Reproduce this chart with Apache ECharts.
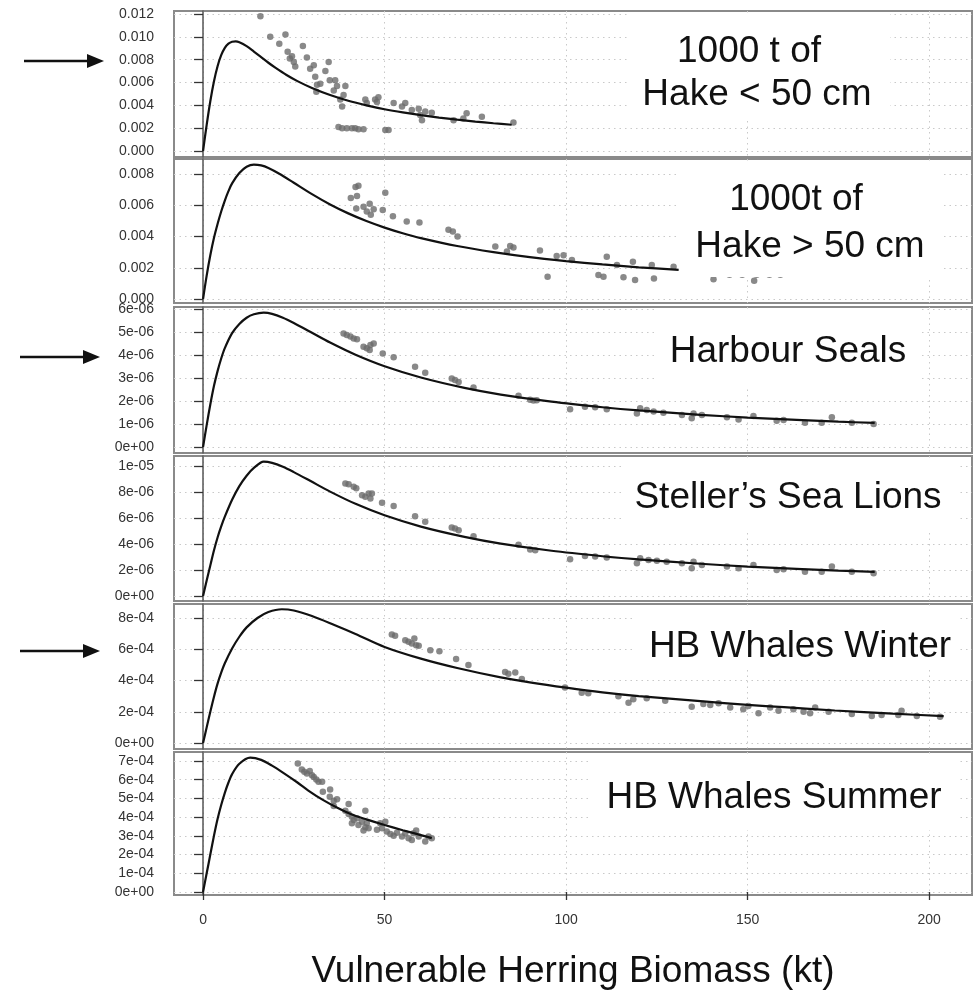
<!DOCTYPE html>
<html>
<head>
<meta charset="utf-8">
<title>Herring consumption per predator</title>
<script src="https://cdn.jsdelivr.net/npm/echarts@6/dist/echarts.min.js"></script>
<style>
  html, body { margin: 0; padding: 0; background: #fff; }
  #chart { width: 980px; height: 998px; }
</style>
</head>
<body>
<div id="chart"></div>
<script>
// ---- values ----
const xTicks = [0, 50, 100, 150, 200];
const xTitle = 'Vulnerable Herring Biomass (kt)';

const panelNames = [
  ['1000 t of', 'Hake < 50 cm'],
  ['1000t of', 'Hake > 50 cm'],
  ['Harbour Seals'],
  ['Steller\u2019s Sea Lions'],
  ['HB Whales Winter'],
  ['HB Whales Summer']
];

// y ticks and their printed labels
const hakeSmallTicks = [0, 0.002, 0.004, 0.006, 0.008, 0.010, 0.012];
const hakeSmallTickLabels = ['0.000', '0.002', '0.004', '0.006', '0.008', '0.010', '0.012'];
const hakeLargeTicks = [0, 0.002, 0.004, 0.006, 0.008];
const hakeLargeTickLabels = ['0.000', '0.002', '0.004', '0.006', '0.008'];
const sealTicks = [0, 1e-6, 2e-6, 3e-6, 4e-6, 5e-6, 6e-6];
const sealTickLabels = ['0e+00', '1e-06', '2e-06', '3e-06', '4e-06', '5e-06', '6e-06'];
const sealionTicks = [0, 2e-6, 4e-6, 6e-6, 8e-6, 1e-5];
const sealionTickLabels = ['0e+00', '2e-06', '4e-06', '6e-06', '8e-06', '1e-05'];
const whaleWinterTicks = [0, 2e-4, 4e-4, 6e-4, 8e-4];
const whaleWinterTickLabels = ['0e+00', '2e-04', '4e-04', '6e-04', '8e-04'];
const whaleSummerTicks = [0, 1e-4, 2e-4, 3e-4, 4e-4, 5e-4, 6e-4, 7e-4];
const whaleSummerTickLabels = ['0e+00', '1e-04', '2e-04', '3e-04', '4e-04', '5e-04', '6e-04', '7e-04'];

// fitted curves [biomass, consumption]
const hakeSmallFit = [[0,0],[1,0.00229],[2,0.00436],[3,0.00609],[4,0.00743],[5,0.00839],[6,0.00903],[7,0.0094],[8,0.00957],[9,0.0096],[10,0.00952],[12,0.00918],[14,0.00871],[16,0.00822],[18,0.00773],[20,0.00728],[23,0.00666],[26,0.00612],[30,0.00552],[35,0.0049],[40,0.0044],[45,0.0040],[50,0.00366],[55,0.00338],[60,0.00314],[65,0.00293],[70,0.00275],[75,0.00258],[80,0.00243],[85,0.0023]];
const hakeLargeFit = [[0,0],[1,0.0015],[2,0.0028],[3,0.0039],[4,0.0048],[5,0.0056],[6,0.0063],[7,0.0069],[8,0.0074],[10,0.00806],[12,0.00846],[14,0.0086],[16,0.00855],[18,0.00839],[21,0.00802],[25,0.00744],[30,0.00671],[35,0.00605],[40,0.00548],[45,0.00499],[50,0.00457],[55,0.00421],[60,0.0039],[70,0.00339],[80,0.0030],[90,0.00268],[100,0.00243],[110,0.00221],[120,0.00203],[131,0.00187]];
const sealFit = [[0,0],[1,0.95e-6],[2,1.85e-6],[3,2.65e-6],[4,3.3e-6],[5,3.85e-6],[6,4.3e-6],[8,4.95e-6],[10,5.35e-6],[12,5.62e-6],[14,5.77e-6],[16.7,5.84e-6],[19,5.79e-6],[22,5.62e-6],[25,5.39e-6],[29.5,5.01e-6],[35,4.54e-6],[42,4.01e-6],[50,3.51e-6],[60,3.02e-6],[72,2.57e-6],[82,2.28e-6],[96,1.97e-6],[110,1.73e-6],[120,1.59e-6],[137,1.40e-6],[150,1.28e-6],[165,1.17e-6],[175,1.10e-6],[185,1.05e-6]];
const sealionFit = [[0,0],[1,1.2e-6],[2,2.35e-6],[3,3.5e-6],[4,4.5e-6],[5,5.35e-6],[6,6.1e-6],[8,7.4e-6],[10,8.45e-6],[12,9.25e-6],[14,9.85e-6],[16.7,10.33e-6],[19,10.24e-6],[22,9.94e-6],[25,9.53e-6],[29.5,8.86e-6],[35,8.03e-6],[42,7.09e-6],[50,6.21e-6],[60,5.34e-6],[72,4.55e-6],[82,4.03e-6],[96,3.48e-6],[110,3.06e-6],[120,2.81e-6],[137,2.48e-6],[150,2.26e-6],[165,2.07e-6],[175,1.95e-6],[185,1.86e-6]];
const whaleWinterFit = [[0,0],[1,1.0e-4],[2,2.0e-4],[3,2.95e-4],[4,3.8e-4],[5,4.5e-4],[6,5.1e-4],[8,6.05e-4],[10,6.8e-4],[12,7.4e-4],[15,8.0e-4],[18,8.38e-4],[21.7,8.56e-4],[25,8.48e-4],[30,8.13e-4],[36,7.57e-4],[42,6.98e-4],[50,6.15e-4],[60,5.4e-4],[70,4.8e-4],[82,4.2e-4],[90,3.88e-4],[100,3.54e-4],[110,3.24e-4],[120,3.0e-4],[137,2.68e-4],[150,2.44e-4],[160,2.29e-4],[174,2.08e-4],[190,1.88e-4],[204,1.72e-4]];
const whaleSummerFit = [[0,0],[1,1.0e-4],[2,2.0e-4],[3,3.0e-4],[4,3.9e-4],[5,4.65e-4],[6,5.3e-4],[7,5.85e-4],[8,6.3e-4],[10,6.85e-4],[13,7.18e-4],[16,7.06e-4],[19,6.75e-4],[22,6.38e-4],[26,5.85e-4],[29,5.42e-4],[33,4.92e-4],[37,4.5e-4],[41,4.14e-4],[45,3.88e-4],[50,3.58e-4],[55,3.3e-4],[60,3.04e-4],[63,2.88e-4]];

// observed points [biomass, consumption]
const hakeSmallPts = [[15.8,0.0118],[18.5,0.0100],[21.0,0.0094],[22.7,0.0102],[23.3,0.0087],[23.9,0.0081],[24.5,0.0083],[25.0,0.0078],[25.4,0.0074],[27.5,0.0092],[28.6,0.0082],[29.5,0.0072],[30.5,0.0075],[30.9,0.0065],[31.4,0.0058],[31.2,0.0052],[32.3,0.0059],[33.7,0.0070],[34.6,0.0078],[34.9,0.0062],[36.0,0.0053],[36.4,0.0062],[36.9,0.0057],[37.8,0.0045],[38.3,0.0039],[39.2,0.0057],[38.7,0.0049],[37.3,0.0021],[38.3,0.0020],[39.6,0.0020],[41.0,0.0020],[41.9,0.0020],[42.8,0.0019],[44.2,0.0019],[44.7,0.0045],[45.1,0.0042],[47.4,0.0045],[48.3,0.0047],[47.9,0.0043],[50.2,0.00185],[51.1,0.00185],[52.5,0.0042],[54.8,0.0039],[55.7,0.0042],[57.5,0.0036],[59.4,0.0037],[59.8,0.00315],[60.3,0.0027],[61.2,0.00345],[63.0,0.00335],[69.0,0.0027],[71.7,0.00285],[72.6,0.0033],[76.8,0.0030],[85.5,0.0025]];
const hakeLargePts = [[40.7,0.00646],[42.0,0.00717],[42.8,0.00725],[42.4,0.0066],[42.2,0.0058],[44.2,0.0059],[45.1,0.0056],[45.9,0.0061],[46.2,0.0054],[47.0,0.00575],[49.5,0.0057],[50.2,0.0068],[52.3,0.0053],[56.1,0.00496],[59.6,0.0049],[67.6,0.00443],[68.8,0.00432],[70.1,0.0040],[80.5,0.00336],[83.7,0.00304],[84.6,0.0034],[85.5,0.0033],[92.8,0.0031],[94.9,0.00143],[97.4,0.00275],[99.3,0.0028],[101.6,0.0025],[108.9,0.00154],[110.3,0.00143],[111.2,0.0027],[114.0,0.00218],[115.8,0.00139],[118.4,0.00239],[119.0,0.00122],[123.6,0.00218],[124.2,0.00132],[129.6,0.00207],[140.6,0.00126],[145.0,0.00155],[148.5,0.00155],[151.8,0.00117],[152.5,0.00155],[156.0,0.00155],[159.0,0.00155]];
const sealPts = [[38.7,4.94e-6],[39.6,4.87e-6],[40.6,4.8e-6],[41.5,4.72e-6],[42.4,4.68e-6],[44.2,4.36e-6],[45.1,4.29e-6],[46.1,4.43e-6],[47.0,4.5e-6],[45.9,4.22e-6],[49.5,4.07e-6],[52.5,3.9e-6],[58.4,3.49e-6],[61.2,3.23e-6],[68.5,2.98e-6],[69.4,2.91e-6],[70.4,2.83e-6],[74.5,2.59e-6],[86.9,2.23e-6],[90.1,2.06e-6],[91.0,2.02e-6],[91.9,2.03e-6],[101.1,1.64e-6],[105.2,1.75e-6],[108.0,1.73e-6],[111.2,1.64e-6],[119.5,1.46e-6],[120.4,1.68e-6],[122.2,1.61e-6],[124.1,1.54e-6],[126.8,1.49e-6],[131.9,1.39e-6],[134.6,1.25e-6],[135.1,1.46e-6],[137.4,1.39e-6],[144.3,1.29e-6],[147.5,1.2e-6],[151.6,1.35e-6],[158.0,1.14e-6],[159.9,1.17e-6],[165.8,1.06e-6],[170.4,1.06e-6],[173.2,1.29e-6],[178.7,1.06e-6],[184.7,1.0e-6]];
const sealionPts = [[39.2,8.66e-6],[40.1,8.59e-6],[41.5,8.41e-6],[42.2,8.28e-6],[43.8,7.76e-6],[44.7,7.63e-6],[45.6,7.89e-6],[46.5,7.89e-6],[46.1,7.51e-6],[49.3,7.17e-6],[52.5,6.92e-6],[58.4,6.14e-6],[61.2,5.71e-6],[68.5,5.27e-6],[69.4,5.19e-6],[70.4,5.06e-6],[74.5,4.6e-6],[86.9,3.94e-6],[90.1,3.58e-6],[91.5,3.52e-6],[101.1,2.82e-6],[105.2,3.08e-6],[108.0,3.03e-6],[111.2,2.97e-6],[119.5,2.51e-6],[120.4,2.9e-6],[122.7,2.77e-6],[125.0,2.72e-6],[127.7,2.64e-6],[131.9,2.51e-6],[134.6,2.13e-6],[135.1,2.64e-6],[137.4,2.38e-6],[144.3,2.26e-6],[147.5,2.13e-6],[151.6,2.38e-6],[158.0,2.0e-6],[159.9,2.05e-6],[165.8,1.87e-6],[170.4,1.87e-6],[173.2,2.26e-6],[178.7,1.87e-6],[184.7,1.75e-6]];
const whaleWinterPts = [[52.0,6.94e-4],[52.9,6.86e-4],[55.7,6.58e-4],[56.6,6.48e-4],[57.5,6.37e-4],[58.2,6.69e-4],[58.7,6.26e-4],[59.4,6.22e-4],[62.6,5.94e-4],[65.1,5.88e-4],[69.7,5.37e-4],[73.1,4.99e-4],[83.2,4.54e-4],[84.1,4.44e-4],[86.0,4.52e-4],[87.8,4.1e-4],[99.7,3.56e-4],[104.3,3.22e-4],[106.1,3.18e-4],[114.4,3.0e-4],[117.2,2.58e-4],[118.5,2.8e-4],[122.2,2.86e-4],[127.3,2.71e-4],[134.6,2.32e-4],[137.8,2.5e-4],[139.7,2.43e-4],[142.0,2.54e-4],[145.2,2.28e-4],[148.8,2.16e-4],[150.2,2.37e-4],[153.0,1.9e-4],[156.2,2.28e-4],[158.5,2.07e-4],[162.6,2.16e-4],[165.4,2.0e-4],[167.2,1.9e-4],[168.6,2.28e-4],[172.3,2.0e-4],[178.7,1.86e-4],[184.2,1.73e-4],[186.9,1.79e-4],[191.5,1.79e-4],[192.4,2.07e-4],[196.6,1.73e-4],[203.0,1.68e-4]];
const whaleSummerPts = [[26.1,6.86e-4],[27.2,6.54e-4],[27.9,6.42e-4],[28.6,6.33e-4],[29.4,6.47e-4],[30.0,6.24e-4],[30.5,6.15e-4],[31.2,6.01e-4],[31.8,5.89e-4],[32.8,5.89e-4],[33.0,5.35e-4],[35.0,5.48e-4],[34.9,5.09e-4],[36.0,4.88e-4],[36.9,4.95e-4],[36.0,4.59e-4],[40.1,4.7e-4],[39.2,4.34e-4],[40.1,4.17e-4],[41.0,4.02e-4],[41.5,3.85e-4],[42.4,3.94e-4],[41.0,3.67e-4],[42.8,3.58e-4],[43.8,3.76e-4],[44.7,4.34e-4],[44.7,3.46e-4],[45.1,3.67e-4],[45.6,3.4e-4],[44.2,3.28e-4],[47.9,3.32e-4],[48.8,3.67e-4],[49.3,3.4e-4],[50.2,3.76e-4],[50.6,3.23e-4],[51.6,3.1e-4],[52.5,3.0e-4],[53.4,3.17e-4],[54.8,2.96e-4],[55.7,3.14e-4],[56.6,2.87e-4],[57.5,2.78e-4],[58.0,3.14e-4],[58.7,3.28e-4],[59.4,2.96e-4],[61.2,2.7e-4],[62.1,2.96e-4],[63.0,2.87e-4]];

// ---- layout ----
const FONT = '"Liberation Sans", Arial, Helvetica, sans-serif';
const GRID_LEFT = 174, GRID_WIDTH = 798;
const X_MIN = -8, X_MAX = 211.8;

const panels = [
  { pts: hakeSmallPts, fit: hakeSmallFit, ticks: hakeSmallTicks, labels: hakeSmallTickLabels,
    top: 11, height: 146, min: -0.000526, max: 0.012263, cover: [627, 13, 263, 105], text: [[749, 52], [757, 95]] },
  { pts: hakeLargePts, fit: hakeLargeFit, ticks: hakeLargeTicks, labels: hakeLargeTickLabels,
    top: 159, height: 144, min: -0.000256, max: 0.00896, cover: [680, 161, 263, 116], text: [[796, 200], [810, 247]] },
  { pts: sealPts, fit: sealFit, ticks: sealTicks, labels: sealTickLabels,
    top: 307, height: 146, min: -0.26e-6, max: 6.087e-6, cover: [657, 309, 265, 80], text: [[788, 352]] },
  { pts: sealionPts, fit: sealionFit, ticks: sealionTicks, labels: sealionTickLabels,
    top: 456, height: 145, min: -0.385e-6, max: 10.77e-6, cover: [623, 458, 334, 72], text: [[788, 498]] },
  { pts: whaleWinterPts, fit: whaleWinterFit, ticks: whaleWinterTicks, labels: whaleWinterTickLabels,
    top: 604, height: 145, min: -0.384e-4, max: 8.896e-4, cover: [633, 606, 327, 62], text: [[800, 647]] },
  { pts: whaleSummerPts, fit: whaleSummerFit, ticks: whaleSummerTicks, labels: whaleSummerTickLabels,
    top: 752, height: 143, min: -0.16e-4, max: 7.48e-4, cover: [590, 754, 368, 76], text: [[774, 798]] }
];

// arrows on the left, pointing at panels 1, 3 and 5
const arrowRows = [[24, 61], [20, 357], [20, 651]];

function tickLabel(ticks, labels) {
  return function (v) {
    let best = 0;
    for (let i = 1; i < ticks.length; i++) {
      if (Math.abs(ticks[i] - v) < Math.abs(ticks[best] - v)) best = i;
    }
    return labels[best];
  };
}

const gridLine = { show: true, lineStyle: { color: '#c9c9c9', width: 1, type: [1.5, 4] } };

const grids = [], xAxes = [], yAxes = [], series = [], graphics = [];

panels.forEach(function (p, i) {
  const last = i === panels.length - 1;
  grids.push({
    left: GRID_LEFT, width: GRID_WIDTH, top: p.top, height: p.height,
    show: true, borderColor: '#8a8a8a', borderWidth: 2, backgroundColor: '#fff'
  });
  xAxes.push({
    gridIndex: i, type: 'value', min: X_MIN, max: X_MAX,
    axisLine: { show: false },
    axisTick: { show: last, customValues: xTicks, length: 8, lineStyle: { color: '#333', width: 1.3 } },
    axisLabel: { show: last, customValues: xTicks, margin: 18, fontSize: 14, color: '#333', fontFamily: FONT },
    splitLine: gridLine,
    name: last ? xTitle : '',
    nameLocation: 'middle', nameGap: 58,
    nameTextStyle: { fontSize: 37, color: '#111', fontFamily: FONT }
  });
  yAxes.push({
    gridIndex: i, type: 'value', min: p.min, max: p.max,
    axisLine: { show: true, lineStyle: { color: '#555', width: 1.5 } },
    axisTick: { show: true, customValues: p.ticks, length: 9, lineStyle: { color: '#333', width: 1.3 } },
    axisLabel: { customValues: p.ticks, margin: 20, fontSize: 14, color: '#333', fontFamily: FONT,
                 formatter: tickLabel(p.ticks, p.labels) },
    splitLine: gridLine
  });
  series.push({
    type: 'scatter', xAxisIndex: i, yAxisIndex: i, data: p.pts,
    symbol: 'circle', symbolSize: 6.5, itemStyle: { color: '#6b6b6b' }, z: 2, silent: true
  });
  series.push({
    type: 'line', xAxisIndex: i, yAxisIndex: i, data: p.fit,
    showSymbol: false, smooth: 0.3,
    lineStyle: { color: '#111', width: 2.2 }, z: 3, silent: true
  });

  // white legend box hiding grid lines, then the panel title
  graphics.push({
    type: 'rect', z: 10, silent: true,
    shape: { x: p.cover[0], y: p.cover[1], width: p.cover[2], height: p.cover[3] },
    style: { fill: '#fff' }
  });
  panelNames[i].forEach(function (line, k) {
    graphics.push({
      type: 'text', z: 11, silent: true,
      x: p.text[k][0], y: p.text[k][1],
      style: { text: line, font: '37px ' + FONT, fill: '#111', align: 'center', verticalAlign: 'middle' }
    });
  });
});

arrowRows.forEach(function (a) {
  const x0 = a[0], y = a[1];
  graphics.push({
    type: 'line', z: 11, silent: true,
    shape: { x1: x0, y1: y, x2: x0 + 66, y2: y },
    style: { stroke: '#111', lineWidth: 2.6 }
  });
  graphics.push({
    type: 'polygon', z: 11, silent: true,
    shape: { points: [[x0 + 63, y - 7], [x0 + 80, y], [x0 + 63, y + 7]] },
    style: { fill: '#111' }
  });
});

const chart = echarts.init(document.getElementById('chart'));
chart.setOption({
  animation: false,
  backgroundColor: '#fff',
  grid: grids,
  xAxis: xAxes,
  yAxis: yAxes,
  series: series,
  graphic: graphics
});
</script>
</body>
</html>
